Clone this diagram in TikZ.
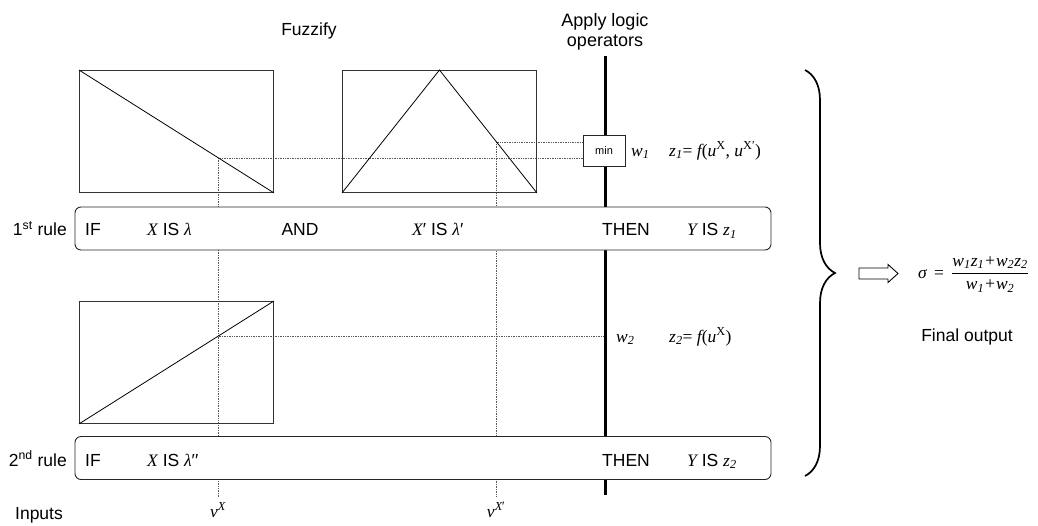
\documentclass[tikz,border=0pt]{standalone}
\usepackage{fontspec}
\setmainfont{Liberation Sans}
\newfontfamily\serifface{Liberation Serif}
\newcommand{\mvar}[1]{{\serifface\itshape #1}}
\newcommand{\msub}[2]{\mvar{#1}\textsubscript{\mvar{#2}}}
\usetikzlibrary{calc,backgrounds,decorations.pathreplacing}

\begin{document}
\begin{tikzpicture}[x=1pt,y=-1pt,
  every node/.style={font=\fontsize{17.5}{20}\selectfont, inner sep=0pt},
  mfbox/.style={draw=black!80, line width=0.9pt, minimum width=194pt, minimum height=122pt, anchor=north west},
  rulebox/.style={draw=black!85, fill=white, rounded corners=6pt, line width=0.9pt, minimum width=696pt, minimum height=43pt},
  minbox/.style={draw=black!85, fill=white, line width=0.9pt, minimum width=42pt, minimum height=31pt, font=\fontsize{11}{13}\selectfont},
  guide/.style={densely dotted, line width=0.7pt, black!65},
  opline/.style={line width=3pt},
  mfcurve/.style={line width=0.8pt},
  txt/.style={anchor=base west}]
\useasboundingbox (0,0) rectangle (1038,525);

% column headings
\node[anchor=base] (fuzz) at (309,35) {Fuzzify};
\node[anchor=north, align=center, font=\fontsize{18}{20.5}\selectfont] (apply) at (605,13) {Apply logic\\operators};

% membership function plots
\node[mfbox] (b1) at (79,70) {};
\node[mfbox] (b2) at (342,70) {};
\node[mfbox] (b3) at (79,301) {};
\draw[mfcurve] (b1.north west) -- (b1.south east);
\draw[mfcurve] (b2.south west) -- (b2.north) -- (b2.south east);
\draw[mfcurve] (b3.south west) -- (b3.north east);
\coordinate (m1) at ($(b1.north west)!0.716!(b1.south east)$);
\coordinate (m2) at ($(b2.north)!0.588!(b2.south east)$);
\coordinate (m3) at ($(b3.south west)!0.716!(b3.north east)$);

% operator column
\coordinate (optop) at (605,56);
\coordinate (opbot) at (605,495);
\coordinate (inrow) at (0,497);
\node[minbox] (min) at (604,150.5) {min};
\node[txt] (w1) at (631,156) {\msub{w}{1}};
\node[txt] (z1) at (669,156) {\serifface\msub{z}{1}= \mvar{f}(\mvar{u}\textsuperscript{X}, \mvar{u}\textsuperscript{X′})};
\node[txt] (w2) at (616,342) {\msub{w}{2}};
\node[txt] (z2) at (669,342) {\serifface\msub{z}{2}= \mvar{f}(\mvar{u}\textsuperscript{X})};

% rules
\node[rulebox] (r1) at (423,228.5) {};
\node[rulebox] (r2) at (423,458) {};
\node[anchor=base east] (r1lab) at (67,235.5) {1\textsuperscript{st} rule};
\node[txt] (if1) at (85,235.5) {IF};
\node[txt] (ant1) at (147,235.5) {\mvar{X} IS \mvar{λ}};
\node[anchor=base] (and1) at (300,235.5) {AND};
\node[txt] (ant2) at (412,235.5) {\mvar{X}′ IS \mvar{λ}′};
\node[txt] (then1) at (602,235.5) {THEN};
\node[txt] (cons1) at (687,235.5) {\mvar{Y} IS \msub{z}{1}};
\node[anchor=base east] (r2lab) at (67,466) {2\textsuperscript{nd} rule};
\node[txt] (if2) at (85,466) {IF};
\node[txt] (ant3) at (147,466) {\mvar{X} IS \mvar{λ}′′};
\node[txt] (then2) at (602,466) {THEN};
\node[txt] (cons2) at (687,466) {\mvar{Y} IS \msub{z}{2}};

% inputs
\node[anchor=base] (inputs) at (39,519) {Inputs};
\node[anchor=base] (vx) at (218,517) {\mvar{v}\textsuperscript{\mvar{X}}};
\node[anchor=base] (vxp) at (496,517) {\mvar{v}\textsuperscript{\mvar{X}′}};

\begin{scope}[on background layer]
  \draw[guide] (m1) -- (m1 -| min.west);
  \draw[guide] (m2) -- (m2 -| min.west);
  \draw[guide] (m3) -- (m3 -| optop);
  \draw[guide] (m1) -- (m1 |- inrow);
  \draw[guide] (m2) -- (m2 |- inrow);
  \draw[opline] (optop) -- (opbot);
\end{scope}

% aggregation
\coordinate (bt) at (805,70);
\coordinate (bb) at (805,476);
\draw[decorate, decoration={brace, amplitude=30pt}, line width=1.7pt] (bt) -- (bb);
\coordinate (arr) at (859,273.5);
\draw[line width=0.9pt] (arr) ++(0,-5.5) -- ++(29,0) -- ++(0,-3.5) -- ++(10,9) -- ++(-10,9) -- ++(0,-3.5) -- ++(-29,0) -- cycle;
\node[txt] (out) at (918,278) {\serifface\itshape σ\, \upshape=\, \(\displaystyle\frac{\mbox{\serifface\itshape w\textsubscript{1}z\textsubscript{1}+w\textsubscript{2}z\textsubscript{2}}}{\mbox{\serifface\itshape w\textsubscript{1}+w\textsubscript{2}}}\)};
\node[anchor=base] (final) at (967,341) {Final output};
\end{tikzpicture}
\end{document}
